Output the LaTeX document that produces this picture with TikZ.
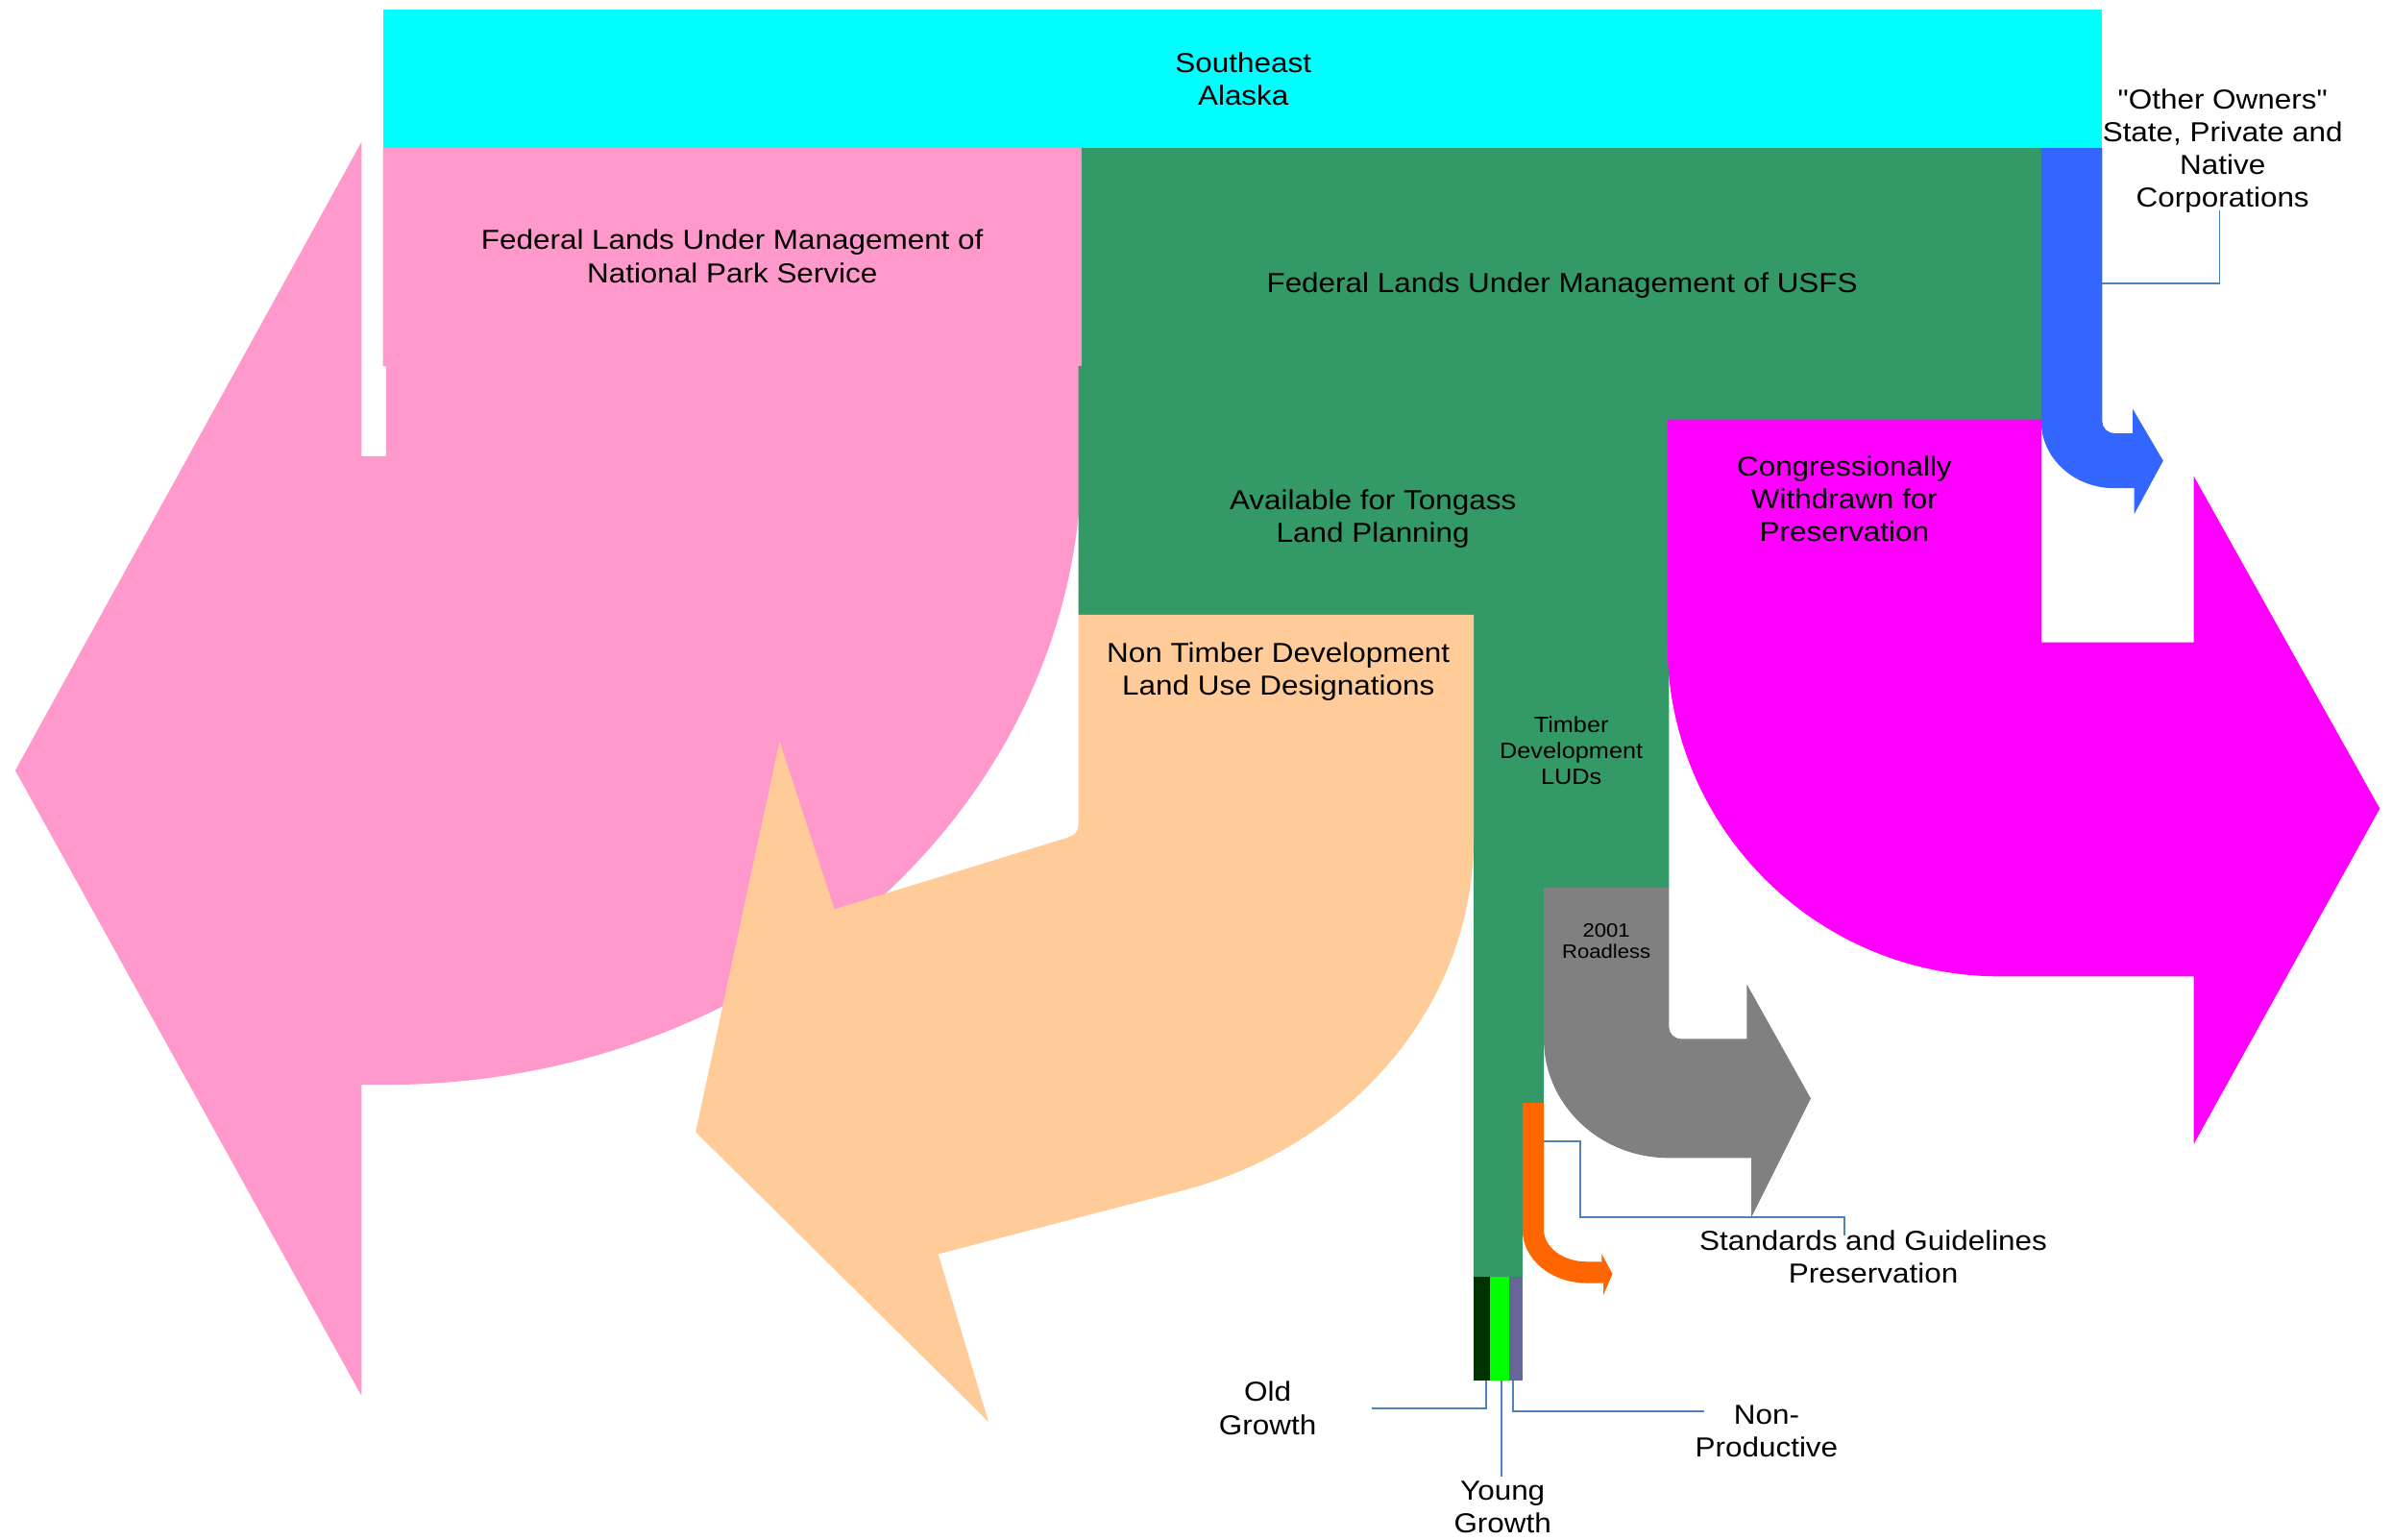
\documentclass[tikz,border=0pt]{standalone}
\usepackage{fontspec}
\newfontfamily\libfont{Liberation Sans}[FakeStretch=1.1]
\definecolor{cyanc}{RGB}{0,255,255}
\definecolor{pinkc}{RGB}{255,153,204}
\definecolor{greenc}{RGB}{51,153,102}
\definecolor{bluec}{RGB}{51,102,255}
\definecolor{magc}{RGB}{255,0,255}
\definecolor{peachc}{RGB}{255,204,153}
\definecolor{grayc}{RGB}{128,128,128}
\definecolor{orangec}{RGB}{255,102,0}
\definecolor{dkgreenc}{RGB}{0,51,0}
\definecolor{brgreenc}{RGB}{0,255,0}
\definecolor{purpc}{RGB}{102,102,153}
\definecolor{leadc}{RGB}{79,129,189}
\begin{document}
\begin{tikzpicture}[x=0.025cm,y=-0.025cm,
  lbl/.style={inner sep=0pt,align=center,font=\libfont\fontsize{12.8}{15.3}\selectfont},
  sml/.style={inner sep=0pt,align=center,font=\libfont\fontsize{10.3}{12.1}\selectfont},
  tny/.style={inner sep=0pt,align=center,font=\libfont\fontsize{9}{10}\selectfont},
  lead/.style={draw=leadc,line width=0.8pt}]
\useasboundingbox (0,0) rectangle (1568,1009);
% Southeast Alaska bar
\fill[cyanc] (251,6) rectangle (1378,97);
% National Park Service flow
\fill[pinkc] (251,97) -- (709,97) -- (709,299)
  arc[start angle=0,end angle=90,x radius=456,y radius=412]
  -- (237,711) -- (237,915) -- (10,505) -- (237,93) -- (237,299)
  -- (253,299) -- (253,240) -- (251,240) -- cycle;
% USFS flow
\fill[greenc] (709,97) -- (1338,97) -- (1338,276) -- (1094,276) -- (1094,582)
  -- (1012,582) -- (1012,723) -- (998,723) -- (998,837) -- (966,837)
  -- (966,403) -- (707,403) -- (707,240) -- (709,240) -- cycle;
% Congressionally withdrawn
\fill[magc] (1093,275) -- (1338,275) -- (1338,421) -- (1438,421) -- (1438,312)
  -- (1560,530) -- (1438,750) -- (1438,640) -- (1311,640)
  arc[start angle=90,end angle=180,radius=218] -- cycle;
% Other owners
\fill[bluec] (1338,97) -- (1378,97) -- (1378,276)
  arc[start angle=180,end angle=90,radius=8]
  -- (1398,284) -- (1398,268) -- (1418,302) -- (1399,337) -- (1399,320) -- (1386,320)
  arc[start angle=90,end angle=180,x radius=48,y radius=44] -- cycle;
% Non timber development
\fill[peachc] (707,403) -- (966,403) -- (966,550)
  arc[start angle=0,end angle=73,x radius=265,y radius=240]
  -- (615,822) -- (648,932) -- (456,742) -- (511,486) -- (547,596)
  -- (690,552) .. controls (707,547) .. (707,535) -- cycle;
% 2001 Roadless
\fill[grayc] (1012,582) -- (1094,582) -- (1094,673)
  arc[start angle=180,end angle=90,radius=8]
  -- (1145,681) -- (1145,645) -- (1187,720) -- (1148,798) -- (1148,759) -- (1094,759)
  arc[start angle=90,end angle=180,x radius=82,y radius=78] -- cycle;
% Standards and guidelines
\fill[orangec] (998,723) -- (1012,723) -- (1012,806)
  arc[start angle=180,end angle=90,x radius=28,y radius=21]
  -- (1050,827) -- (1050,822) -- (1057,835) -- (1051,849) -- (1051,841) -- (1040,841)
  arc[start angle=90,end angle=180,x radius=42,y radius=35] -- cycle;
% bottom strips
\fill[dkgreenc] (966,837) rectangle (977,905);
\fill[brgreenc] (977,837) rectangle (989,905);
\fill[purpc] (989,837) rectangle (998,905);
% labels
\node[lbl] (sea) at (815,52) {Southeast\\Alaska};
\node[lbl] (nps) at (480,168) {Federal Lands Under Management of\\National Park Service};
\node[lbl] (usfs) at (1024,187) {Federal Lands Under Management of USFS};
\node[lbl] (oo) at (1457,99) {"Other Owners"\\State, Private and\\Native\\Corporations};
\node[lbl] (avail) at (900,340) {Available for Tongass\\Land Planning};
\node[lbl] (cong) at (1209,327) {Congressionally\\Withdrawn for\\Preservation};
\node[lbl] (ntd) at (838,440) {Non Timber Development\\Land Use Designations};
\node[sml] (tdl) at (1030,492) {Timber\\Development\\LUDs};
\node[tny] (rdl) at (1053,617) {2001\\Roadless};
\node[lbl] (sg) at (1228,824) {Standards and Guidelines\\Preservation};
\node[lbl] (og) at (831,923) {Old\\Growth};
\node[lbl] (yg) at (985,988) {Young\\Growth};
\node[lbl] (np) at (1158,938) {Non-\\Productive};
% leader anchors
\coordinate (ooA) at (1378,186);
\coordinate (sgA) at (1012,748);
\coordinate (ogA) at (974,905);
\coordinate (ygA) at (984,905);
\coordinate (npA) at (992,905);
% leader lines
\draw[lead] (ooA) -- (1455,186) -- (1455,138);
\draw[lead] (sgA) -- (1036,748) -- (1036,798) -- (1209,798) -- (1209,810);
\draw[lead] (ogA) -- (974,923) -- (899,923);
\draw[lead] (ygA) -- (984,968);
\draw[lead] (npA) -- (992,925) -- (1117,925);
\end{tikzpicture}
\end{document}
